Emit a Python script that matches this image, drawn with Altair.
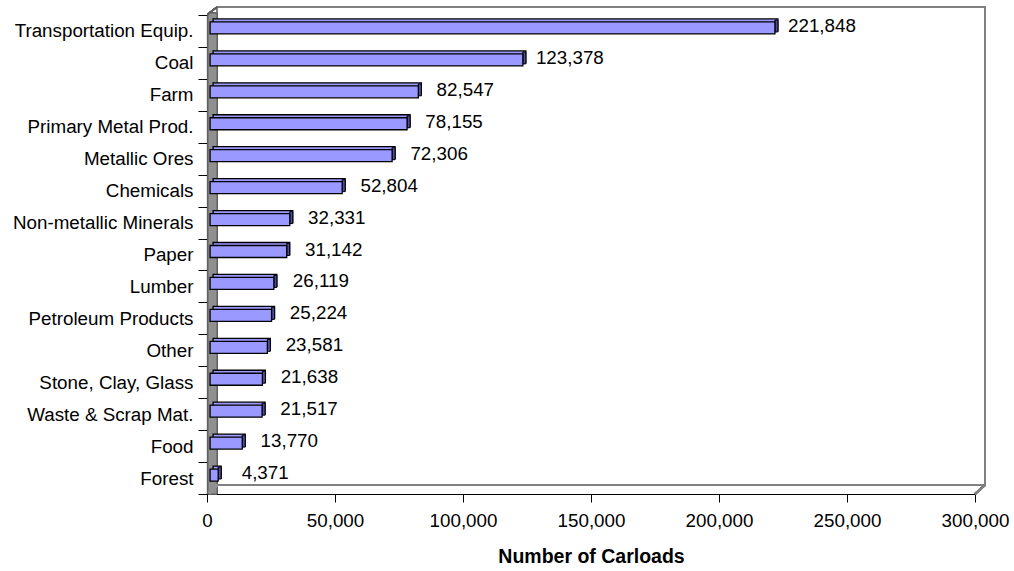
import altair as alt
import pandas as pd

categories = ["Transportation Equip.", "Coal", "Farm", "Primary Metal Prod.", "Metallic Ores",
              "Chemicals", "Non-metallic Minerals", "Paper", "Lumber", "Petroleum Products",
              "Other", "Stone, Clay, Glass", "Waste & Scrap Mat.", "Food", "Forest"]
carloads = [221848, 123378, 82547, 78155, 72306, 52804, 32331, 31142, 26119, 25224,
            23581, 21638, 21517, 13770, 4371]
x_ticks = [0, 50000, 100000, 150000, 200000, 250000, 300000]

df = pd.DataFrame({"cat": categories, "value": carloads})

W, H = 768, 479
FONT = "Liberation Sans"
FILL = "#9999FF"
SIDE = "#4d4d99"

xscale = alt.Scale(domain=[0, 300000], nice=False, zero=True)
yscale = alt.Scale(domain=categories, paddingInner=0, paddingOuter=0)

xaxis = alt.Axis(values=x_ticks, format=",.0f", formatType="number", title="Number of Carloads",
                 grid=False, domainColor="black", domainWidth=1.2,
                 tickColor="black", tickSize=8, labelPadding=9,
                 labelFontSize=18.8, labelFont=FONT, labelColor="black",
                 titleFont=FONT, titleFontSize=19.5, titleFontWeight="bold",
                 titleColor="black", titlePadding=18, labelFlush=False)
yaxis = alt.Axis(title=None, tickBand="extent", domainColor="black", domainWidth=1.2,
                 tickColor="black", tickSize=9, labelPadding=5,
                 labelFontSize=18.8, labelFont=FONT, labelColor="black",
                 labelLimit=400)

xenc = alt.X("value:Q", scale=xscale, axis=xaxis)
yenc = alt.Y("cat:N", scale=yscale, sort=categories, axis=yaxis)

base = alt.Chart(df)

# 3D frame: back wall, left wall, floor
back_wall = base.mark_rect(fill="white", stroke="#808080", strokeWidth=2).encode(
    x=alt.value(10), x2=alt.value(778), y=alt.value(-8), y2=alt.value(470))
left_wall = base.mark_rect(fill="#909090", stroke="#606060", strokeWidth=1).encode(
    x=alt.value(1), x2=alt.value(10), y=alt.value(-2), y2=alt.value(479))
left_top = base.mark_rule(color="#606060", strokeWidth=1.5).encode(
    x=alt.value(1), x2=alt.value(10), y=alt.value(-1), y2=alt.value(-8))
left_top_fill = base.mark_rule(color="white", strokeWidth=4).encode(
    x=alt.value(-1), x2=alt.value(8), y=alt.value(-6), y2=alt.value(-12))
floor_line = base.mark_rule(color="#808080", strokeWidth=2).encode(
    x=alt.value(10), x2=alt.value(778), y=alt.value(470))
floor_right = base.mark_rule(color="#808080", strokeWidth=2).encode(
    x=alt.value(768), x2=alt.value(778), y=alt.value(479), y2=alt.value(470))
floor_left = base.mark_rule(color="#909090", strokeWidth=3).encode(
    x=alt.value(2), x2=alt.value(10), y=alt.value(478), y2=alt.value(470))

# bars (3D look: back box, side face, front face)
bar_back = base.mark_bar(size=12, yOffset=-6, xOffset=3, x2Offset=3, fill=FILL,
                         stroke="black", strokeWidth=1.3).encode(
    x=xenc, x2=alt.datum(1200), y=yenc)
bar_side = base.mark_bar(size=12, yOffset=-5, xOffset=0, x2Offset=3, fill=SIDE,
                         stroke="black", strokeWidth=1).encode(
    x=xenc, x2=alt.X2("value"), y=yenc)
bar_front = base.mark_bar(size=12, yOffset=-3, fill=FILL, stroke="black", strokeWidth=1.3).encode(
    x=xenc, x2=alt.datum(1200), y=yenc)

labels = base.mark_text(align="center", baseline="middle", dx=47, dy=-5,
                        fontSize=18.8, font=FONT, color="black").encode(
    x=xenc, y=yenc,
    text=alt.Text("value:Q", format=","))

chart = alt.layer(back_wall, left_wall, left_top_fill, left_top, floor_line, floor_right, floor_left,
                  bar_back, bar_side, bar_front, labels).properties(
    width=W, height=H,
    autosize=alt.AutoSizeParams(type="none"),
    padding={"left": 207, "top": 15, "right": 39, "bottom": 77},
    background="white",
).configure_view(stroke=None)

chart.save("out.html", embed_options={"renderer": "svg", "actions": False})
